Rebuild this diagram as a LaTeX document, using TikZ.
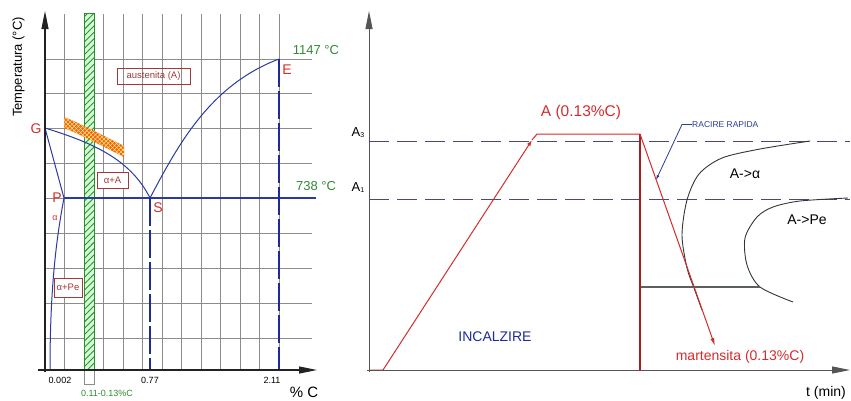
\documentclass[tikz,border=0pt]{standalone}
\usepackage{fontspec}
\setmainfont{Liberation Sans}
\usetikzlibrary{arrows.meta,patterns.meta}
\definecolor{gridc}{HTML}{8C8C8C}
\definecolor{bl}{HTML}{2B3A9E}
\definecolor{dbl}{HTML}{1F2A9A}
\definecolor{rd}{HTML}{D42B2B}
\definecolor{drd}{HTML}{A81E1E}
\definecolor{gr}{HTML}{2F8A36}
\definecolor{boxc}{HTML}{A33A3A}
\definecolor{dashc}{HTML}{4A4A7A}
\definecolor{orng}{HTML}{F0602A}
\definecolor{crv}{HTML}{303830}
\definecolor{axc}{HTML}{222222}
\definecolor{axr}{HTML}{555555}
\tikzset{
  fs/.style={font=\fontsize{#1}{#1}\selectfont, inner sep=0pt},
  gridline/.style={gridc, line width=0.6pt},
  axtip/.style={-{Triangle[length=18pt,width=7pt]}},
  blcurve/.style={bl, line width=1pt},
  dashv/.style={dbl, line width=1.3pt, dash pattern=on 28pt off 4pt},
  dashh/.style={dashc, line width=0.8pt, dash pattern=on 20pt off 8pt},
  phasebox/.style={draw=boxc, line width=0.8pt, text=boxc, inner sep=0pt, font=\fontsize{9.5}{9.5}\selectfont},
  redlbl/.style={fs=14, text=rd},
  tcurve/.style={crv, line width=0.9pt},
}
\begin{document}
\begin{tikzpicture}[x=1pt,y=-1pt]
\useasboundingbox (0,0) rectangle (851,400);
% ---------------- left: Fe-C diagram ----------------
% grid
\foreach \i in {1,...,12} \draw[gridline] ({45+19.5*\i},14) -- ({45+19.5*\i},370);
\foreach \yy in {59,93.5,128,163,198,233,268,303,338} \draw[gridline] (45,\yy) -- (312,\yy);
% green strip
\fill[green!18] (84,13) rectangle (94,370);
\fill[pattern={Lines[angle=45,distance=4.5pt,line width=0.9pt]}, pattern color=gr] (84,13) rectangle (94,370);
\draw[gr, line width=0.6pt] (84,13) rectangle (94,370);
\draw[gridc, line width=0.6pt] (84,370) rectangle (94,384);
% orange band
\fill[orng] (64,117) .. controls (84,125) and (104,136) .. (124,146) -- (124,157) .. controls (104,147) and (84,136) .. (64,128) -- cycle;
\fill[pattern={Lines[angle=45,distance=3pt,line width=0.5pt]}, pattern color=yellow!60] (64,117) .. controls (84,125) and (104,136) .. (124,146) -- (124,157) .. controls (104,147) and (84,136) .. (64,128) -- cycle;
\fill[pattern={Lines[angle=-45,distance=3pt,line width=0.5pt]}, pattern color=yellow!60] (64,117) .. controls (84,125) and (104,136) .. (124,146) -- (124,157) .. controls (104,147) and (84,136) .. (64,128) -- cycle;
% key points
\coordinate (G) at (45,128);
\coordinate (P) at (64,198);
\coordinate (S) at (150,198);
\coordinate (E) at (279,59);
\coordinate (Pb) at (50,370);
\coordinate (Sb) at (150,370);
\coordinate (Eb) at (279,370);
\coordinate (PSend) at (316,198);
% phase lines
\draw[blcurve] (G) .. controls (90,142) and (130,158) .. (S);
\draw[blcurve] (S) .. controls (178,145) and (210,85) .. (E);
\draw[blcurve] (G) -- (P);
\draw[blcurve] (P) .. controls (56,240) and (50,290) .. (Pb);
\draw[bl, line width=1.2pt] (P) -- (PSend);
\draw[dashv] (S) -- (Sb);
\draw[dashv] (E) -- (Eb);
% axes
\coordinate (ylt) at (45,11);
\coordinate (ylb) at (45,372);
\coordinate (xll) at (38,370);
\coordinate (xlr) at (317,370);
\draw[axc, line width=1.1pt, axtip] (ylb) -- (ylt);
\draw[axc, line width=1.1pt, axtip] (xll) -- (xlr);
% labels
\node[fs=13, rotate=90] (tlabel) at (18.5,67) {Temperatura (°C)};
\node[fs=13, text=gr] (t1147) at (316,50) {1147 °C};
\node[fs=13, text=gr] (t738) at (316,186) {738 °C};
\node[redlbl] (lG) at (36,129) {G};
\node[redlbl] (lP) at (57,198) {P};
\node[fs=9, text=rd] (lalpha) at (55,218) {α};
\node[redlbl] (lS) at (158,208) {S};
\node[redlbl] (lE) at (287,70) {E};
\node[phasebox, minimum width=73pt, minimum height=16pt] (aust) at (153.5,76) {austenita (A)};
\node[phasebox, minimum width=31pt, minimum height=16pt, fill=white] (aA) at (112.5,180) {α+A};
\node[phasebox, minimum width=28pt, minimum height=19pt, fill=white] (aPe) at (68,287.5) {α+Pe};
\node[fs=9] (x1) at (60,380) {0.002};
\node[fs=9] (x2) at (150,380) {0.77};
\node[fs=9] (x3) at (272,380) {2.11};
\node[fs=15] (xpc) at (304,392) {\% C};
\node[fs=9, text=gr] (xr) at (107,393) {0.11-0.13\%C};
% ---------------- right: heat treatment ----------------
\coordinate (A3l) at (369,141);
\coordinate (A3r) at (850,141);
\coordinate (A1l) at (369,199);
\coordinate (A1r) at (850,199);
\draw[dashh] (A3l) -- (A3r);
\draw[dashh] (A1l) -- (A1r);
% TTT curves
\draw[tcurve] plot[smooth] coordinates {(810,141) (760,149) (722,158) (699,174) (687,200) (682,235) (687,268) (694,288) (702,310)};
\draw[tcurve] plot[smooth] coordinates {(848,198) (800,201) (773,207) (757,217) (745,238) (747,265) (760,287) (793,302)};
\coordinate (H1) at (640,287);
\coordinate (H2) at (760,287);
\draw[crv!80, line width=1.3pt] (H1) -- (H2);
% red path
\coordinate (R0) at (369,370);
\coordinate (R1) at (383,370);
\coordinate (Rm) at (532,140);
\coordinate (R2) at (537,134);
\coordinate (R3) at (640,134);
\coordinate (R4) at (640,370);
\coordinate (R5) at (715,346);
\draw[rd, line width=1pt, -{Latex[length=6pt,width=4pt]}] (R0) -- (R1) -- (Rm);
\draw[rd, line width=1pt] (Rm) -- (R2) -- (R3);
\draw[drd, line width=1.4pt] (R3) -- (R4);
\draw[rd, line width=1pt, -{Latex[length=8pt,width=4pt]}] (R3) -- (R5);
% axes
\coordinate (yrt) at (369,11);
\coordinate (yrb) at (369,372);
\coordinate (xrl) at (367,370);
\coordinate (xrr) at (850,370);
\draw[axr, line width=0.9pt, axtip] (yrb) -- (yrt);
\draw[axr, line width=0.9pt, axtip] (xrl) -- (xrr);
% labels
\node[fs=13] (lA3) at (358,133) {A\raisebox{-1pt}{\fontsize{7}{7}\selectfont 3}};
\node[fs=13] (lA1) at (358,188) {A\raisebox{-1pt}{\fontsize{7}{7}\selectfont 1}};
\node[fs=15.5, text=rd] (lA) at (581,112) {A (0.13\%C)};
\node[fs=8.5, text=bl, anchor=west] (racire) at (692,124.5) {RACIRE RAPIDA};
\coordinate (rtip) at (656,180);
\draw[bl, line width=0.8pt, -{Latex[length=5pt,width=3pt]}] (racire.west) -- ++(-10,0) -- (rtip);
\node[fs=14] (ta) at (745,174) {A->α};
\node[fs=14] (tpe) at (807,220) {A->Pe};
\node[fs=14, text=dbl] (inc) at (495,337) {INCALZIRE};
\node[fs=14, text=rd] (mart) at (740,357) {martensita (0.13\%C)};
\node[fs=14] (tmin) at (826,393) {t (min)};
\end{tikzpicture}
\end{document}
